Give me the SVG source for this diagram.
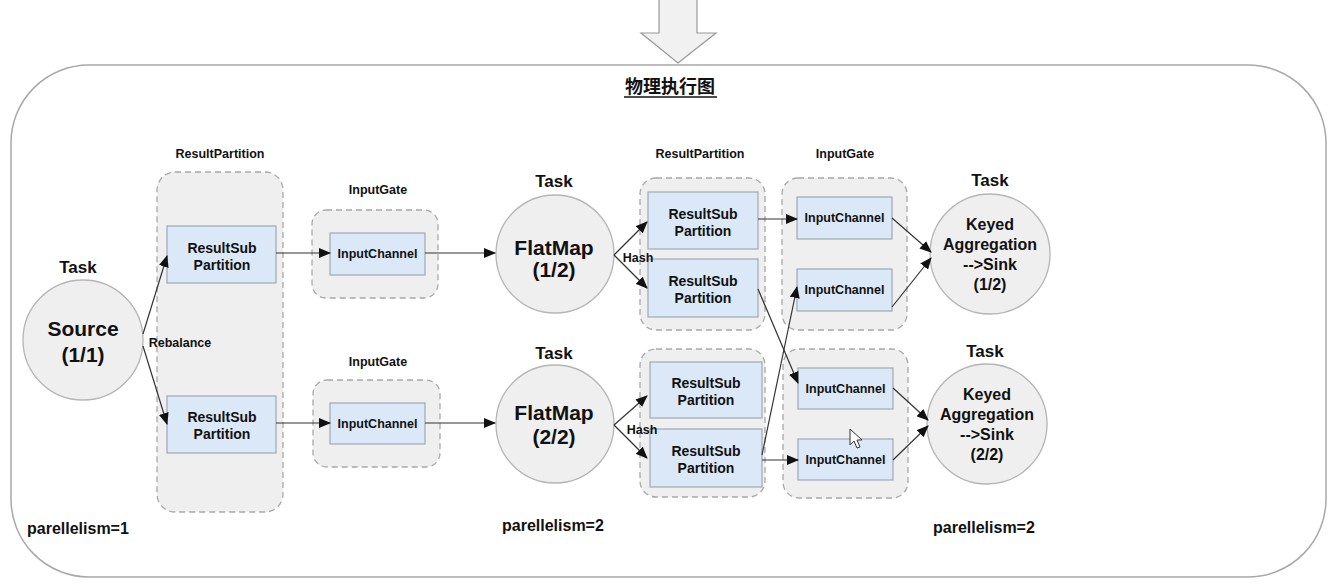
<svg xmlns="http://www.w3.org/2000/svg" width="1335" height="584" viewBox="0 0 1335 584">
<defs>
<style>
text{font-family:"Liberation Sans",Arial,sans-serif;font-weight:bold;fill:#111;text-anchor:middle}
.cont{fill:#efefef;stroke:#a8a8a8;stroke-width:1.3;stroke-dasharray:6 4}
.box{fill:#dbe8f7;stroke:#9ea8b4;stroke-width:1.2}
.circ{fill:#efefef;stroke:#b5b5b5;stroke-width:1.3}
.lbl{font-size:12.5px}
.bx{font-size:14px}
.ic{font-size:12.5px}
.task{font-size:17px}
.big{font-size:21px}
.kd{font-size:16px}
.par{font-size:16px;text-anchor:start}
.conn path,.conn line{stroke:#333;stroke-width:1.2;fill:none;marker-end:url(#ah)}
</style>
<marker id="ah" markerWidth="12" markerHeight="10" refX="11" refY="5" orient="auto" markerUnits="userSpaceOnUse">
<path d="M0,0 L12,5 L0,10 Z" fill="#111"/>
</marker>
</defs>
<rect width="1335" height="584" fill="#fff"/>
<g id="frame">
<rect x="11" y="65" width="1315" height="512" rx="78" ry="78" fill="#fff" stroke="#a8a8a8" stroke-width="1.5"/>
<polygon points="659,-2 697,-2 697,33 716,33 678,63 641,33 659,33" fill="#f1f1f1" stroke="#999" stroke-width="1.2"/>
<text x="670" y="93" style="font-size:18px;font-family:'Noto Sans CJK SC','Liberation Sans',sans-serif">物理执行图</text>
<line x1="624" y1="97" x2="717" y2="97" stroke="#111" stroke-width="1.6"/>
</g>
<g id="source">
<text class="task" x="78" y="273">Task</text>
<circle class="circ" cx="83" cy="340" r="60"/>
<text class="big" x="83" y="336">Source</text>
<text class="big" x="83" y="362">(1/1)</text>
</g>
<g id="rp1">
<text class="lbl" x="220" y="158">ResultPartition</text>
<rect class="cont" x="157" y="172" width="126" height="340" rx="18"/>
</g>
<g id="rsp1">
<rect class="box" x="167" y="226" width="109" height="57"/>
<text class="bx" x="222" y="253">ResultSub</text>
<text class="bx" x="222" y="270">Partition</text>
</g>
<g id="rsp2">
<rect class="box" x="167" y="396" width="109" height="57"/>
<text class="bx" x="222" y="422">ResultSub</text>
<text class="bx" x="222" y="439">Partition</text>
</g>
<g id="ig1">
<text class="lbl" x="378" y="194">InputGate</text>
<rect class="cont" x="312" y="210" width="126" height="88" rx="14"/>
<rect class="box" x="330" y="233" width="95" height="42"/>
<text class="ic" x="377.5" y="258">InputChannel</text>
</g>
<g id="ig2">
<text class="lbl" x="378" y="366">InputGate</text>
<rect class="cont" x="313" y="380" width="127" height="87" rx="14"/>
<rect class="box" x="330" y="403" width="95" height="41"/>
<text class="ic" x="377.5" y="428">InputChannel</text>
</g>
<g id="flatmap1">
<text class="task" x="554" y="187">Task</text>
<circle class="circ" cx="555" cy="254" r="59"/>
<text class="big" x="554" y="255">FlatMap</text>
<text class="big" x="554" y="277">(1/2)</text>
</g>
<g id="flatmap2">
<text class="task" x="554" y="359">Task</text>
<circle class="circ" cx="555" cy="424" r="59"/>
<text class="big" x="554" y="420">FlatMap</text>
<text class="big" x="554" y="444">(2/2)</text>
</g>
<g id="rp2">
<text class="lbl" x="700" y="158">ResultPartition</text>
<rect class="cont" x="640" y="178" width="125" height="152" rx="16"/>
<rect class="box" x="648" y="192" width="110" height="57"/>
<text class="bx" x="703" y="219">ResultSub</text>
<text class="bx" x="703" y="236">Partition</text>
<rect class="box" x="648" y="259" width="110" height="58"/>
<text class="bx" x="703" y="286">ResultSub</text>
<text class="bx" x="703" y="303">Partition</text>
</g>
<g id="rp3">
<rect class="cont" x="640" y="349" width="125" height="148" rx="16"/>
<rect class="box" x="650" y="362" width="112" height="56"/>
<text class="bx" x="706" y="388">ResultSub</text>
<text class="bx" x="706" y="405">Partition</text>
<rect class="box" x="650" y="429" width="112" height="58"/>
<text class="bx" x="706" y="456">ResultSub</text>
<text class="bx" x="706" y="473">Partition</text>
</g>
<g id="ig3">
<text class="lbl" x="845" y="158">InputGate</text>
<rect class="cont" x="782" y="178" width="125" height="152" rx="16"/>
<rect class="box" x="797" y="197" width="95" height="42"/>
<text class="ic" x="844.5" y="222">InputChannel</text>
<rect class="box" x="797" y="269" width="95" height="42"/>
<text class="ic" x="844.5" y="294">InputChannel</text>
</g>
<g id="ig4">
<rect class="cont" x="783" y="349" width="125" height="149" rx="16"/>
<rect class="box" x="798" y="368" width="95" height="41"/>
<text class="ic" x="845.5" y="393">InputChannel</text>
<rect class="box" x="798" y="439" width="95" height="41"/>
<text class="ic" x="845.5" y="464">InputChannel</text>
</g>
<g id="sink1">
<text class="task" x="990" y="186">Task</text>
<circle class="circ" cx="990" cy="254" r="60"/>
<text class="kd" x="990" y="230">Keyed</text>
<text class="kd" x="990" y="250">Aggregation</text>
<text class="kd" x="990" y="270">--&gt;Sink</text>
<text class="kd" x="990" y="290">(1/2)</text>
</g>
<g id="sink2">
<text class="task" x="985" y="357">Task</text>
<circle class="circ" cx="987" cy="424" r="60"/>
<text class="kd" x="987" y="400">Keyed</text>
<text class="kd" x="987" y="420">Aggregation</text>
<text class="kd" x="987" y="440">--&gt;Sink</text>
<text class="kd" x="987" y="460">(2/2)</text>
</g>
<g id="connectors" class="conn">
<path d="M143,334 L167,256"/>
<path d="M143,346 L167,424"/>
<path d="M276,253 L330,253"/>
<path d="M425,253 L495,253"/>
<path d="M276,423 L330,423"/>
<path d="M425,423 L495,423"/>
<path d="M614,255 L647,222"/>
<path d="M614,255 L647,288"/>
<path d="M614,425 L647,396"/>
<path d="M614,425 L647,458"/>
<path d="M758,219 L797,219"/>
<path d="M758,289 L798,383"/>
<path d="M762,455 L797,287"/>
<path d="M762,460 L798,460"/>
<path d="M892,218 L931,252"/>
<path d="M892,307 L931,258"/>
<path d="M893,388 L928,420"/>
<path d="M893,460 L928,426"/>
</g>
<g id="labels">
<text class="lbl" x="180" y="347">Rebalance</text>
<text class="lbl" x="638" y="262">Hash</text>
<text class="lbl" x="642" y="434">Hash</text>
<text class="par" x="27" y="534">parellelism=1</text>
<text class="par" x="502" y="531">parellelism=2</text>
<text class="par" x="933" y="533">parellelism=2</text>
</g>
<g id="cursor">
<polygon points="850,429 850,445 854,441 857,448 860,447 857,440 862,440" fill="#fff" stroke="#333" stroke-width="1"/>
</g>
</svg>
